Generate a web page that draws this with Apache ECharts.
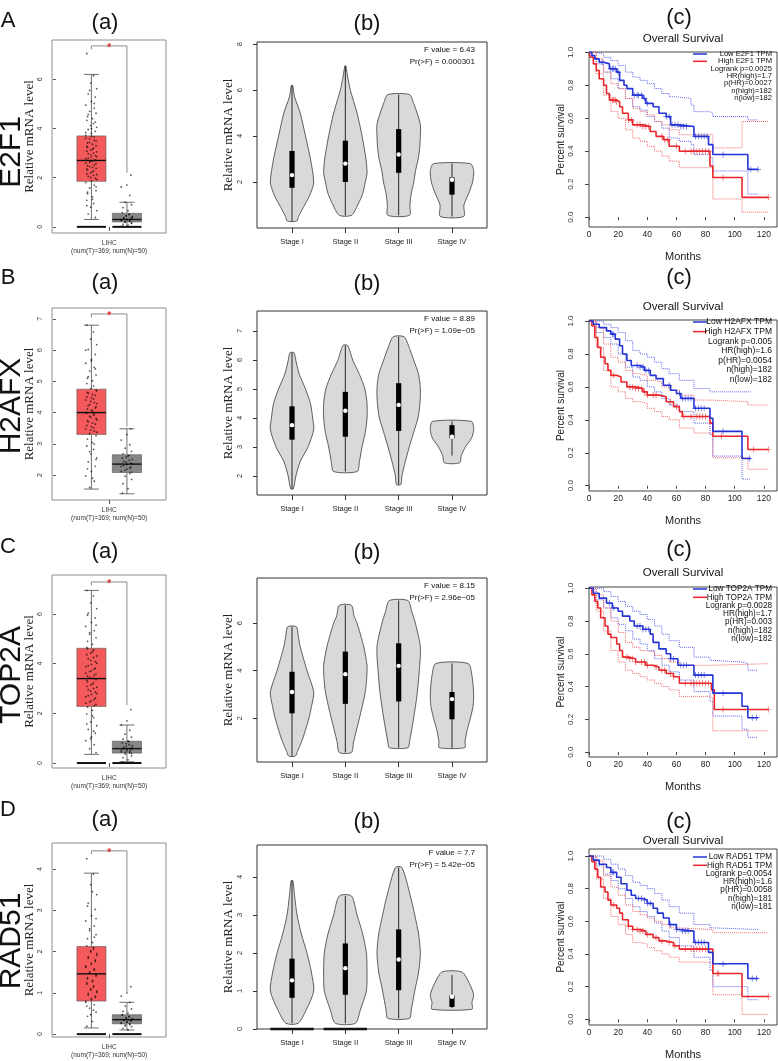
<!DOCTYPE html>
<html>
<head>
<meta charset="utf-8">
<title>E2F1 / H2AFX / TOP2A / RAD51</title>
<script src="https://cdn.jsdelivr.net/npm/echarts@6.0.0/dist/echarts.min.js"></script>
<style>
  html, body { margin: 0; padding: 0; background: #fff; }
  #main { width: 778px; height: 1061px; }
</style>
</head>
<body>
<div id="main"></div>
<script>
// ---------------- 数据 ----------------
var genes = ['E2F1', 'H2AFX', 'TOP2A', 'RAD51'];
var rowLetters = ['A', 'B', 'C', 'D'];
var stageNames = ['Stage I', 'Stage II', 'Stage III', 'Stage IV'];
var monthTicks = [0, 20, 40, 60, 80, 100, 120];
var survivalTicks = [0, 0.2, 0.4, 0.6, 0.8, 1.0];

// (a) 箱线图: [min, Q1, median, Q3, max]
var tumorBoxE2F1 = [0.3, 1.85, 2.7, 3.7, 6.2];
var normalBoxE2F1 = [0, 0.2, 0.3, 0.55, 1.0];
var tumorBoxH2AFX = [1.55, 3.3, 4.0, 4.75, 6.8];
var normalBoxH2AFX = [1.4, 2.08, 2.35, 2.65, 3.48];
var tumorBoxTOP2A = [0.35, 2.28, 3.4, 4.62, 6.95];
var normalBoxTOP2A = [0.05, 0.4, 0.58, 0.88, 1.53];
var tumorBoxRAD51 = [0.15, 0.8, 1.46, 2.12, 3.9];
var normalBoxRAD51 = [0.1, 0.25, 0.35, 0.47, 0.77];
// samples piled at zero (tumor, normal)
var zeroPileE2F1 = [1, 1];
var zeroPileH2AFX = [0, 0];
var zeroPileTOP2A = [1, 1];
var zeroPileRAD51 = [1, 1];

// (a) 散点
var tumorDotsE2F1 = [7.05, 6.15, 5.85, 5.62, 5.4, 5.28, 5.1, 4.95, 4.83, 4.7, 4.62, 4.48, 4.4, 4.33, 4.2, 4.12, 4.05, 3.96, 3.88, 3.8, 3.72, 3.66, 3.58, 3.5, 3.41, 3.36, 3.27, 3.2, 3.12, 3.05, 2.98, 2.9, 2.84, 2.77, 2.7, 2.63, 2.57, 2.49, 2.42, 2.36, 2.28, 2.2, 2.13, 2.05, 1.97, 1.88, 1.8, 1.7, 1.58, 1.47, 1.35, 1.22, 1.08, 0.95, 0.8, 0.66, 0.52, 0.38,
  3.68, 3.6, 3.52, 3.44, 3.3, 3.23, 3.16, 3.08, 3.0, 2.93, 2.86, 2.79, 2.72, 2.66, 2.59, 2.52, 2.45, 2.38, 2.31, 2.24, 2.16, 2.09, 2.01, 1.93, 4.57, 4.26, 3.99, 3.83, 5.02, 5.55, 1.63, 1.41, 1.12, 0.86];
var normalDotsE2F1 = [2.1, 1.7, 1.62, 1.28, 1.0, 0.9, 0.78, 0.66, 0.58, 0.52, 0.46, 0.41, 0.37, 0.33, 0.3, 0.27, 0.24, 0.2, 0.16, 0.11, 0.07, 0.03,
  0.5, 0.44, 0.39, 0.35, 0.32, 0.29, 0.26, 0.23, 0.19, 0.14];
var tumorDotsH2AFX = [6.8, 6.58, 6.35, 6.18, 6.02, 5.86, 5.7, 5.58, 5.45, 5.33, 5.2, 5.1, 5.02, 4.93, 4.85, 4.77, 4.7, 4.62, 4.55, 4.47, 4.4, 4.32, 4.26, 4.18, 4.11, 4.05, 3.98, 3.92, 3.85, 3.77, 3.7, 3.63, 3.55, 3.48, 3.41, 3.33, 3.26, 3.15, 3.04, 2.93, 2.82, 2.68, 2.55, 2.42, 2.28, 2.12, 1.97, 1.8, 1.6,
  4.72, 4.65, 4.58, 4.5, 4.43, 4.36, 4.29, 4.22, 4.15, 4.08, 4.01, 3.95, 3.88, 3.81, 3.74, 3.66, 3.59, 3.51, 3.44, 3.37, 5.15, 5.4, 5.66, 6.0, 2.99, 2.75, 2.5, 2.2, 1.9];
var normalDotsH2AFX = [3.48, 3.3, 3.12, 2.97, 2.86, 2.76, 2.68, 2.61, 2.54, 2.47, 2.41, 2.36, 2.31, 2.25, 2.19, 2.12, 2.05, 1.96, 1.86, 1.72, 1.56, 1.42,
  2.63, 2.57, 2.5, 2.44, 2.38, 2.33, 2.28, 2.22, 2.15, 2.09];
var tumorDotsTOP2A = [6.95, 6.72, 6.45, 6.22, 6.03, 5.84, 5.66, 5.5, 5.33, 5.18, 5.04, 4.9, 4.78, 4.66, 4.55, 4.43, 4.31, 4.2, 4.08, 3.97, 3.88, 3.78, 3.68, 3.58, 3.5, 3.41, 3.33, 3.24, 3.14, 3.05, 2.95, 2.85, 2.76, 2.66, 2.56, 2.46, 2.36, 2.25, 2.12, 1.97, 1.82, 1.66, 1.5, 1.35, 1.2, 1.05, 0.9, 0.74, 0.58, 0.42,
  4.6, 4.48, 4.36, 4.25, 4.13, 4.02, 3.92, 3.82, 3.72, 3.62, 3.53, 3.45, 3.36, 3.27, 3.18, 3.09, 3.0, 2.9, 2.8, 2.71, 2.61, 2.51, 2.41, 2.31, 5.25, 5.55, 5.95, 1.9, 1.58, 1.28, 0.98];
var normalDotsTOP2A = [2.15, 1.7, 1.53, 1.32, 1.16, 1.04, 0.96, 0.88, 0.81, 0.74, 0.67, 0.62, 0.57, 0.53, 0.49, 0.45, 0.41, 0.36, 0.29, 0.21, 0.13, 0.05,
  0.86, 0.78, 0.7, 0.64, 0.59, 0.55, 0.51, 0.47, 0.43, 0.39];
var tumorDotsRAD51 = [4.25, 3.88, 3.62, 3.38, 3.17, 3.02, 2.87, 2.74, 2.62, 2.51, 2.41, 2.31, 2.22, 2.14, 2.06, 1.99, 1.91, 1.84, 1.76, 1.69, 1.62, 1.55, 1.48, 1.41, 1.34, 1.27, 1.21, 1.14, 1.07, 1.01, 0.95, 0.89, 0.83, 0.77, 0.71, 0.63, 0.53, 0.43, 0.31, 0.19,
  2.1, 2.02, 1.95, 1.87, 1.79, 1.72, 1.65, 1.58, 1.51, 1.44, 1.37, 1.3, 1.24, 1.17, 1.1, 1.04, 0.98, 0.92, 0.86, 0.8, 2.35, 2.55, 2.8, 3.1, 3.45, 0.68, 0.58, 0.47];
var normalDotsRAD51 = [1.15, 1.0, 0.92, 0.77, 0.68, 0.61, 0.55, 0.51, 0.47, 0.43, 0.4, 0.37, 0.35, 0.33, 0.3, 0.28, 0.25, 0.22, 0.18, 0.14, 0.1,
  0.46, 0.42, 0.39, 0.36, 0.34, 0.32, 0.29, 0.26, 0.23, 0.2];

// (a) 显著性括号: [top, left foot, right foot]
var bracketE2F1 = [7.36, 7.22, 2.2];
var bracketH2AFX = [7.16, 7.05, 3.55];
var bracketTOP2A = [7.29, 7.15, 2.33];
var bracketRAD51 = [4.44, 4.36, 1.0];

var exprTicksE2F1 = [0, 2, 4, 6];
var exprTicksH2AFX = [2, 3, 4, 5, 6, 7];
var exprTicksTOP2A = [0, 2, 4, 6];
var exprTicksRAD51 = [0, 1, 2, 3, 4];

// (b) 小提琴图内箱: [lower whisker, Q1, median, Q3, upper whisker]
var vioBoxE2F1 = [[0.3, 1.75, 2.3, 3.35, 6.2], [0.55, 2.0, 2.8, 3.8, 7.05], [0.55, 2.4, 3.2, 4.3, 5.8], [0.5, 1.45, 2.1, 2.2, 2.8]];
var vioBoxH2AFX = [[1.55, 3.25, 3.75, 4.4, 6.25], [2.15, 3.35, 4.25, 4.9, 6.5], [1.7, 3.55, 4.45, 5.2, 6.8], [2.7, 3.3, 3.35, 3.75, 3.88]];
var vioBoxTOP2A = [[0.4, 2.2, 3.1, 3.95, 5.85], [0.55, 2.6, 3.85, 4.8, 6.75], [0.75, 2.7, 4.2, 5.15, 6.95], [0.75, 1.95, 2.8, 3.1, 4.3]];
var vioBoxRAD51 = [[0.15, 0.82, 1.28, 1.85, 3.9], [0.15, 0.9, 1.6, 2.25, 3.5], [0.28, 1.02, 1.83, 2.62, 4.25], [0.55, 0.58, 0.85, 0.88, 1.42]];
// 密度轮廓: [value, relative half width], top to bottom
var vioShapeE2F1 = [
  [[6.2, 0.03], [5.7, 0.12], [5, 0.38], [4, 0.62], [3, 0.85], [2, 1], [1.5, 0.85], [1, 0.58], [0.5, 0.3], [0.3, 0.22]],
  [[7.05, 0.02], [6.5, 0.12], [6, 0.23], [5, 0.54], [4, 0.77], [3, 0.95], [2.4, 1], [2, 0.92], [1.5, 0.8], [1, 0.57], [0.55, 0.28]],
  [[5.8, 0.5], [5.4, 0.7], [5, 0.85], [4.5, 1], [4, 1], [3.5, 0.97], [3, 0.9], [2.5, 0.78], [2, 0.7], [1.5, 0.58], [1, 0.52], [0.55, 0.5]],
  [[2.8, 0.85], [2.5, 1], [2, 0.95], [1.5, 0.77], [1, 0.55], [0.5, 0.54]]
];
var vioShapeH2AFX = [
  [[6.25, 0.09], [5.9, 0.2], [5.5, 0.34], [5, 0.62], [4.5, 0.85], [4, 0.95], [3.6, 1], [3, 0.74], [2.5, 0.38], [2, 0.18], [1.55, 0.06]],
  [[6.5, 0.11], [6, 0.34], [5.5, 0.65], [5, 0.9], [4.5, 1], [4, 1], [3.5, 0.92], [3, 0.77], [2.5, 0.65], [2.15, 0.54]],
  [[6.8, 0.25], [6.4, 0.5], [6, 0.69], [5.5, 0.92], [5, 1], [4.5, 0.98], [4, 0.89], [3.5, 0.69], [3, 0.49], [2.5, 0.31], [2, 0.15], [1.7, 0.1]],
  [[3.88, 0.9], [3.6, 1], [3.3, 0.9], [3, 0.62], [2.7, 0.43], [2.45, 0.35]]
];
var vioShapeTOP2A = [
  [[5.85, 0.2], [5.5, 0.28], [5, 0.38], [4, 0.69], [3.1, 1], [2.5, 0.9], [2, 0.78], [1.5, 0.62], [1, 0.44], [0.6, 0.25], [0.4, 0.15]],
  [[6.75, 0.28], [6.3, 0.4], [6, 0.54], [5, 0.85], [4.2, 1], [3.5, 0.97], [3, 0.9], [2, 0.65], [1, 0.38], [0.55, 0.28]],
  [[6.95, 0.43], [6.5, 0.6], [6, 0.77], [5, 1], [4, 0.95], [3, 0.85], [2, 0.69], [1, 0.5], [0.75, 0.43]],
  [[4.3, 0.74], [3.8, 0.92], [3, 1], [2.5, 0.97], [2, 0.85], [1.5, 0.7], [1, 0.6], [0.75, 0.59]]
];
var vioShapeRAD51 = [
  [[3.9, 0.04], [3.5, 0.12], [3, 0.23], [2.5, 0.43], [2, 0.69], [1.5, 0.89], [1, 1], [0.5, 0.65], [0.15, 0.28]],
  [[3.5, 0.28], [3, 0.54], [2.5, 0.8], [2, 0.97], [1.5, 1], [1, 0.97], [0.5, 0.69], [0.15, 0.46]],
  [[4.25, 0.15], [3.5, 0.54], [3, 0.74], [2.5, 0.92], [2, 1], [1.5, 0.92], [1, 0.74], [0.5, 0.58], [0.28, 0.5]],
  [[1.5, 0.46], [1.2, 0.8], [0.9, 1], [0.7, 0.92], [0.52, 0.92]]
];
var vioZeroE2F1 = [0, 0, 0, 0];
var vioZeroH2AFX = [0, 0, 0, 0];
var vioZeroTOP2A = [0, 0, 0, 0];
var vioZeroRAD51 = [1, 1, 0, 0];
var vioTicksE2F1 = [2, 4, 6, 8];
var vioTicksH2AFX = [2, 3, 4, 5, 6, 7];
var vioTicksTOP2A = [2, 4, 6];
var vioTicksRAD51 = [0, 1, 2, 3, 4];
var fTestE2F1 = ['F value = 6.43', 'Pr(>F) = 0.000301'];
var fTestH2AFX = ['F value = 8.89', 'Pr(>F) = 1.09e\u221205'];
var fTestTOP2A = ['F value = 8.15', 'Pr(>F) = 2.96e\u221205'];
var fTestRAD51 = ['F value = 7.7', 'Pr(>F) = 5.42e\u221205'];

// (c) 生存曲线 [months, survival]
var lowKmE2F1 = [[0, 1], [2, 0.98], [4, 0.96], [7, 0.94], [10, 0.93], [14, 0.9], [19, 0.88], [21, 0.83], [24, 0.8], [26, 0.78], [30, 0.74], [37, 0.72], [39, 0.69], [44, 0.67], [48, 0.63], [53, 0.61], [56, 0.56], [62, 0.55], [72, 0.49], [82, 0.44], [85, 0.38], [109, 0.29], [116, 0.29]];
var highKmE2F1 = [[0, 1], [1, 0.97], [3, 0.93], [5, 0.89], [7, 0.84], [10, 0.8], [12, 0.75], [14, 0.71], [19, 0.7], [21, 0.67], [23, 0.63], [27, 0.59], [30, 0.56], [37, 0.55], [42, 0.52], [46, 0.49], [51, 0.47], [55, 0.43], [62, 0.4], [83, 0.31], [85, 0.24], [105, 0.12], [123, 0.12]];
var lowCensE2F1 = [9, 15, 16, 17, 18, 20, 31, 33, 34, 36, 38, 40, 53, 55, 57, 59, 61, 63, 65, 67, 73, 75, 77, 79, 81, 92, 111, 116];
var highCensE2F1 = [16, 17, 18, 19, 27, 29, 33, 35, 37, 39, 41, 50, 52, 54, 60, 66, 70, 72, 74, 76, 78, 80, 82, 92, 123];
var lowUpE2F1 = [[0, 1], [5, 0.99], [10, 0.97], [15, 0.95], [20, 0.92], [25, 0.88], [30, 0.85], [35, 0.83], [40, 0.81], [45, 0.78], [50, 0.75], [55, 0.73], [60, 0.72], [70, 0.68], [72, 0.64], [83, 0.63], [85, 0.61], [109, 0.59], [116, 0.59]];
var lowLoE2F1 = [[0, 1], [5, 0.93], [10, 0.88], [15, 0.84], [20, 0.78], [25, 0.72], [30, 0.67], [35, 0.65], [40, 0.61], [45, 0.58], [50, 0.54], [55, 0.48], [62, 0.46], [70, 0.44], [72, 0.38], [83, 0.36], [85, 0.28], [109, 0.14], [116, 0.14]];
var highUpE2F1 = [[0, 1], [5, 0.96], [10, 0.88], [15, 0.81], [20, 0.78], [25, 0.72], [30, 0.66], [35, 0.64], [40, 0.62], [45, 0.58], [50, 0.56], [55, 0.53], [62, 0.5], [83, 0.5], [85, 0.42], [105, 0.58], [123, 0.58]];
var highLoE2F1 = [[0, 1], [5, 0.87], [10, 0.74], [15, 0.64], [20, 0.6], [25, 0.53], [30, 0.48], [35, 0.46], [40, 0.43], [45, 0.4], [50, 0.37], [55, 0.34], [62, 0.3], [83, 0.3], [85, 0.11], [105, 0.03], [123, 0.03]];
var statsE2F1 = ['Logrank p=0.0025', 'HR(high)=1.7', 'p(HR)=0.0027', 'n(high)=182', 'n(low)=182'];

var lowKmH2AFX = [[0, 1], [3, 0.98], [7, 0.96], [12, 0.94], [15, 0.92], [18, 0.89], [21, 0.85], [23, 0.8], [26, 0.76], [29, 0.73], [35, 0.72], [38, 0.7], [42, 0.67], [46, 0.65], [51, 0.61], [56, 0.58], [60, 0.56], [63, 0.53], [72, 0.47], [83, 0.41], [85, 0.33], [105, 0.165], [111, 0.165]];
var highKmH2AFX = [[0, 1], [2, 0.97], [4, 0.9], [6, 0.84], [8, 0.78], [11, 0.74], [13, 0.7], [15, 0.67], [19, 0.66], [22, 0.63], [26, 0.6], [32, 0.59], [37, 0.57], [40, 0.55], [48, 0.54], [53, 0.51], [58, 0.48], [62, 0.45], [64, 0.42], [83, 0.38], [85, 0.3], [109, 0.22], [123, 0.22]];
var lowCensH2AFX = [16, 17, 33, 35, 37, 39, 41, 55, 62, 64, 66, 68, 70, 73, 75, 77, 79, 92, 110];
var highCensH2AFX = [17, 28, 30, 32, 34, 36, 38, 40, 44, 46, 56, 60, 65, 70, 74, 76, 78, 80, 91, 113, 123];
var lowUpH2AFX = [[0, 1], [10, 0.98], [15, 0.96], [20, 0.93], [25, 0.88], [30, 0.82], [35, 0.8], [40, 0.78], [45, 0.75], [50, 0.71], [55, 0.68], [62, 0.64], [72, 0.59], [83, 0.57], [111, 0.57]];
var lowLoH2AFX = [[0, 1], [5, 0.93], [10, 0.9], [15, 0.86], [20, 0.8], [25, 0.72], [30, 0.66], [35, 0.64], [40, 0.6], [45, 0.57], [50, 0.53], [55, 0.49], [62, 0.45], [72, 0.38], [83, 0.31], [85, 0.18], [105, 0.04], [111, 0.04]];
var highUpH2AFX = [[0, 1], [5, 0.96], [10, 0.86], [15, 0.78], [20, 0.75], [25, 0.7], [30, 0.68], [35, 0.67], [40, 0.64], [45, 0.63], [50, 0.6], [55, 0.58], [62, 0.55], [72, 0.52], [83, 0.51], [109, 0.49], [123, 0.49]];
var highLoH2AFX = [[0, 1], [5, 0.84], [10, 0.7], [15, 0.6], [20, 0.57], [25, 0.53], [30, 0.51], [35, 0.5], [40, 0.47], [45, 0.45], [50, 0.42], [55, 0.4], [62, 0.35], [72, 0.32], [83, 0.31], [85, 0.17], [109, 0.1], [123, 0.1]];
var statsH2AFX = ['Logrank p=0.005', 'HR(high)=1.6', 'p(HR)=0.0054', 'n(high)=182', 'n(low)=182'];

var lowKmTOP2A = [[0, 1], [3, 0.97], [7, 0.94], [12, 0.91], [16, 0.88], [20, 0.86], [23, 0.83], [28, 0.8], [31, 0.77], [37, 0.75], [42, 0.72], [44, 0.67], [48, 0.63], [53, 0.6], [56, 0.57], [61, 0.53], [72, 0.47], [85, 0.36], [105, 0.28], [109, 0.21], [116, 0.21]];
var highKmTOP2A = [[0, 1], [2, 0.96], [4, 0.92], [6, 0.88], [8, 0.82], [11, 0.77], [13, 0.72], [15, 0.7], [19, 0.66], [21, 0.62], [23, 0.58], [27, 0.57], [32, 0.55], [39, 0.53], [44, 0.52], [48, 0.5], [53, 0.48], [58, 0.46], [62, 0.42], [84, 0.38], [86, 0.26], [123, 0.26]];
var lowCensTOP2A = [14, 17, 33, 35, 37, 39, 41, 56, 58, 63, 65, 67, 73, 75, 77, 79, 92, 112, 115];
var highCensTOP2A = [26, 28, 30, 32, 36, 38, 40, 46, 50, 52, 56, 58, 66, 70, 72, 74, 76, 78, 80, 82, 92, 123];
var lowUpTOP2A = [[0, 1], [10, 0.98], [15, 0.95], [20, 0.92], [25, 0.89], [30, 0.86], [35, 0.84], [40, 0.81], [45, 0.77], [50, 0.72], [55, 0.68], [62, 0.64], [72, 0.58], [83, 0.56], [85, 0.55], [105, 0.54], [109, 0.5], [116, 0.5]];
var lowLoTOP2A = [[0, 1], [5, 0.93], [10, 0.88], [15, 0.82], [20, 0.78], [25, 0.74], [30, 0.69], [35, 0.66], [40, 0.62], [45, 0.57], [50, 0.53], [55, 0.49], [62, 0.44], [72, 0.37], [83, 0.31], [85, 0.22], [105, 0.14], [109, 0.09], [116, 0.09]];
var highUpTOP2A = [[0, 1], [5, 0.96], [10, 0.88], [15, 0.8], [20, 0.73], [25, 0.67], [30, 0.64], [35, 0.62], [40, 0.61], [45, 0.59], [50, 0.57], [55, 0.55], [62, 0.53], [85, 0.54], [123, 0.54]];
var highLoTOP2A = [[0, 1], [5, 0.86], [10, 0.74], [15, 0.62], [20, 0.55], [25, 0.5], [30, 0.48], [35, 0.46], [40, 0.44], [45, 0.42], [50, 0.4], [55, 0.38], [62, 0.34], [83, 0.33], [85, 0.13], [123, 0.13]];
var statsTOP2A = ['Logrank p=0.0028', 'HR(high)=1.7', 'p(HR)=0.003', 'n(high)=182', 'n(low)=182'];

var lowKmRAD51 = [[0, 1], [3, 0.975], [7, 0.95], [12, 0.93], [15, 0.9], [19, 0.87], [22, 0.83], [26, 0.79], [29, 0.76], [32, 0.74], [37, 0.73], [40, 0.71], [44, 0.68], [47, 0.65], [51, 0.62], [55, 0.58], [60, 0.55], [62, 0.54], [72, 0.47], [82, 0.41], [85, 0.34], [109, 0.25], [116, 0.25]];
var highKmRAD51 = [[0, 1], [2, 0.965], [4, 0.92], [6, 0.87], [8, 0.81], [11, 0.78], [13, 0.73], [15, 0.7], [19, 0.68], [21, 0.65], [23, 0.61], [27, 0.57], [30, 0.55], [35, 0.54], [39, 0.52], [44, 0.5], [48, 0.48], [53, 0.47], [58, 0.45], [62, 0.43], [85, 0.28], [105, 0.14], [123, 0.14]];
var lowCensRAD51 = [16, 17, 34, 36, 38, 40, 42, 56, 60, 64, 66, 68, 73, 75, 77, 79, 92, 112, 115];
var highCensRAD51 = [17, 27, 30, 33, 35, 37, 40, 46, 50, 55, 59, 66, 70, 72, 74, 76, 78, 80, 88, 89, 123];
var lowUpRAD51 = [[0, 1], [10, 0.98], [15, 0.95], [20, 0.92], [25, 0.88], [30, 0.84], [35, 0.82], [40, 0.8], [45, 0.77], [50, 0.73], [55, 0.69], [62, 0.65], [72, 0.58], [83, 0.56], [85, 0.55], [116, 0.55]];
var lowLoRAD51 = [[0, 1], [5, 0.94], [10, 0.89], [15, 0.85], [20, 0.8], [25, 0.74], [30, 0.69], [35, 0.66], [40, 0.63], [45, 0.59], [50, 0.54], [55, 0.5], [62, 0.45], [72, 0.38], [83, 0.3], [85, 0.2], [109, 0.12], [116, 0.12]];
var highUpRAD51 = [[0, 1], [5, 0.97], [10, 0.88], [15, 0.81], [20, 0.76], [25, 0.7], [30, 0.66], [35, 0.64], [40, 0.62], [45, 0.6], [50, 0.58], [55, 0.56], [62, 0.55], [83, 0.55], [85, 0.53], [123, 0.53]];
var highLoRAD51 = [[0, 1], [5, 0.86], [10, 0.74], [15, 0.63], [20, 0.58], [25, 0.52], [30, 0.47], [35, 0.46], [40, 0.44], [45, 0.42], [50, 0.4], [55, 0.38], [62, 0.35], [83, 0.34], [85, 0.15], [105, 0.03], [123, 0.03]];
var statsRAD51 = ['Logrank p=0.0054', 'HR(high)=1.6', 'p(HR)=0.0058', 'n(high)=181', 'n(low)=181'];

// ---------------- 版式 ----------------
var SANS = "'Liberation Sans', Arial, Helvetica, sans-serif";
var SERIF = "'Liberation Serif', 'Times New Roman', serif";
var RED = '#e8262b', BLUE = '#2433d6';
var RED_CI = '#f0686b', BLUE_CI = '#5a64ec';
var BOX_FILLS = ['#f45a5b', '#868686'];
var BOX_HALF = 0.41, CAP_HALF = 0.21, VIO_HALF = 0.407;
var JITTER = [-0.13, 0.06, -0.02, 0.15, -0.09, 0.11, 0.0, -0.16, 0.08, -0.05, 0.13, -0.11, 0.03];
var PLUS = 'path://M4.4,0H5.6V10H4.4ZM0,4.4H10V5.6H0Z';

var rowLayout = [
  { letterY: 21, geneY: 152, aY: 23, bY: 24, cY: 18, osY: 39, legendTop: 54, legendStep: 7.3, legendFont: 7.6,
    gridA: [52, 40, 114, 193], rangeA: [-0.25, 7.6],
    gridB: [257, 42, 230, 186], rangeB: [0, 8.09],
    gridC: [589, 52, 188, 175], rangeC: [-0.06, 1.002] },
  { letterY: 278, geneY: 406, aY: 283, bY: 284, cY: 278, osY: 307, legendTop: 322, legendStep: 9.6, legendFont: 8.5,
    gridA: [52, 308, 114, 192], rangeA: [1.2, 7.35],
    gridB: [257, 311, 230, 184], rangeB: [1.34, 7.69],
    gridC: [589, 320, 188, 171], rangeC: [-0.032, 1.006] },
  { letterY: 547, geneY: 675, aY: 552, bY: 553, cY: 550, osY: 573, legendTop: 589, legendStep: 8.3, legendFont: 8.2,
    gridA: [52, 575, 114, 193], rangeA: [-0.2, 7.57],
    gridB: [257, 578, 230, 184], rangeB: [0.15, 7.9],
    gridC: [589, 587, 188, 170], rangeC: [-0.03, 1.008] },
  { letterY: 810, geneY: 941, aY: 820, bY: 822, cY: 822, osY: 841, legendTop: 857, legendStep: 8.3, legendFont: 8.2,
    gridA: [52, 843, 114, 194], rangeA: [-0.07, 4.63],
    gridB: [257, 845, 230, 184], rangeB: [0, 4.84],
    gridC: [589, 849, 188, 176], rangeC: [-0.035, 1.043] }
];

var rows = [
  { tumorBox: tumorBoxE2F1, normalBox: normalBoxE2F1, zeroPile: zeroPileE2F1, tumorDots: tumorDotsE2F1, normalDots: normalDotsE2F1,
    bracket: bracketE2F1, exprTicks: exprTicksE2F1, vioBox: vioBoxE2F1, vioShape: vioShapeE2F1, vioZero: vioZeroE2F1,
    vioTicks: vioTicksE2F1, fTest: fTestE2F1, low: lowKmE2F1, high: highKmE2F1, lowCens: lowCensE2F1, highCens: highCensE2F1,
    ci: [lowUpE2F1, lowLoE2F1, highUpE2F1, highLoE2F1], stats: statsE2F1 },
  { tumorBox: tumorBoxH2AFX, normalBox: normalBoxH2AFX, zeroPile: zeroPileH2AFX, tumorDots: tumorDotsH2AFX, normalDots: normalDotsH2AFX,
    bracket: bracketH2AFX, exprTicks: exprTicksH2AFX, vioBox: vioBoxH2AFX, vioShape: vioShapeH2AFX, vioZero: vioZeroH2AFX,
    vioTicks: vioTicksH2AFX, fTest: fTestH2AFX, low: lowKmH2AFX, high: highKmH2AFX, lowCens: lowCensH2AFX, highCens: highCensH2AFX,
    ci: [lowUpH2AFX, lowLoH2AFX, highUpH2AFX, highLoH2AFX], stats: statsH2AFX },
  { tumorBox: tumorBoxTOP2A, normalBox: normalBoxTOP2A, zeroPile: zeroPileTOP2A, tumorDots: tumorDotsTOP2A, normalDots: normalDotsTOP2A,
    bracket: bracketTOP2A, exprTicks: exprTicksTOP2A, vioBox: vioBoxTOP2A, vioShape: vioShapeTOP2A, vioZero: vioZeroTOP2A,
    vioTicks: vioTicksTOP2A, fTest: fTestTOP2A, low: lowKmTOP2A, high: highKmTOP2A, lowCens: lowCensTOP2A, highCens: highCensTOP2A,
    ci: [lowUpTOP2A, lowLoTOP2A, highUpTOP2A, highLoTOP2A], stats: statsTOP2A },
  { tumorBox: tumorBoxRAD51, normalBox: normalBoxRAD51, zeroPile: zeroPileRAD51, tumorDots: tumorDotsRAD51, normalDots: normalDotsRAD51,
    bracket: bracketRAD51, exprTicks: exprTicksRAD51, vioBox: vioBoxRAD51, vioShape: vioShapeRAD51, vioZero: vioZeroRAD51,
    vioTicks: vioTicksRAD51, fTest: fTestRAD51, low: lowKmRAD51, high: highKmRAD51, lowCens: lowCensRAD51, highCens: highCensRAD51,
    ci: [lowUpRAD51, lowLoRAD51, highUpRAD51, highLoRAD51], stats: statsRAD51 }
];

// ---------------- 绘制函数 ----------------
function seg(a, b) {
  return { x1: a[0], y1: a[1], x2: b[0], y2: b[1] };
}

function renderBoxes(params, api) {
  var x = api.value(0);
  var p = function (dx, v) { return api.coord([x + dx, v]); };
  var lo = api.value(1), q1 = api.value(2), md = api.value(3), q3 = api.value(4), hi = api.value(5);
  var tl = p(-BOX_HALF, q3), br = p(BOX_HALF, q1);
  var wStyle = { stroke: '#4a4a4a', lineWidth: 0.8 };
  var children = [
    { type: 'line', shape: seg(p(0, q3), p(0, hi)), style: wStyle },
    { type: 'line', shape: seg(p(0, lo), p(0, q1)), style: wStyle },
    { type: 'line', shape: seg(p(-CAP_HALF, hi), p(CAP_HALF, hi)), style: wStyle },
    { type: 'line', shape: seg(p(-CAP_HALF, lo), p(CAP_HALF, lo)), style: wStyle },
    { type: 'rect', shape: { x: tl[0], y: tl[1], width: br[0] - tl[0], height: br[1] - tl[1] },
      style: { fill: BOX_FILLS[params.dataIndex], stroke: '#555', lineWidth: 0.6 } },
    { type: 'line', shape: seg(p(-BOX_HALF, md), p(BOX_HALF, md)), style: { stroke: '#111', lineWidth: 1.4 } }
  ];
  if (api.value(6)) {
    children.push({ type: 'line', shape: seg(p(-BOX_HALF, 0), p(BOX_HALF, 0)), style: { stroke: '#111', lineWidth: 2 } });
  }
  return { type: 'group', children: children };
}

function renderBracket(params, api) {
  var top = api.value(0), lf = api.value(1), rf = api.value(2);
  var pts = [api.coord([1, lf]), api.coord([1, top]), api.coord([2, top]), api.coord([2, rf])];
  var mid = api.coord([1.5, top]);
  return {
    type: 'group',
    children: [
      { type: 'polyline', shape: { points: pts }, style: { stroke: '#8a8a8a', lineWidth: 1, fill: null } },
      { type: 'text', x: mid[0], y: mid[1] + 2,
        style: { text: '*', fill: RED, font: 'bold 10px ' + SANS, align: 'center', verticalAlign: 'middle' } }
    ]
  };
}

function violinRenderer(shapes, zeros) {
  return function (params, api) {
    var i = params.dataIndex;
    var x = api.value(0);
    var shape = shapes[i];
    var rightSide = [], leftSide = [];
    shape.forEach(function (d) {
      rightSide.push(api.coord([x + d[1] * VIO_HALF, d[0]]));
      leftSide.unshift(api.coord([x - d[1] * VIO_HALF, d[0]]));
    });
    var children = [{
      type: 'polygon',
      shape: { points: rightSide.concat(leftSide), smooth: 0.25 },
      style: { fill: '#d9d9d9', stroke: '#3a3a3a', lineWidth: 0.8 }
    }];
    if (zeros[i]) {
      children.push({ type: 'line', shape: seg(api.coord([x - VIO_HALF, 0]), api.coord([x + VIO_HALF, 0])),
        style: { stroke: '#111', lineWidth: 2.5 } });
    }
    var lo = api.coord([x, api.value(1)]), q1 = api.coord([x, api.value(2)]);
    var md = api.coord([x, api.value(3)]), q3 = api.coord([x, api.value(4)]), hi = api.coord([x, api.value(5)]);
    children.push({ type: 'line', shape: seg(lo, hi), style: { stroke: '#111', lineWidth: 0.9 } });
    children.push({ type: 'rect', shape: { x: q3[0] - 2.6, y: q3[1], width: 5.2, height: q1[1] - q3[1] }, style: { fill: '#000' } });
    children.push({ type: 'circle', shape: { cx: md[0], cy: md[1], r: 2.2 }, style: { fill: '#fff' } });
    return { type: 'group', children: children };
  };
}

function stepValueAt(steps, t) {
  var s = steps[0][1];
  for (var i = 0; i < steps.length; i++) {
    if (steps[i][0] <= t) s = steps[i][1]; else break;
  }
  return s;
}

function gridOf(g) {
  return { left: g[0], top: g[1], width: g[2], height: g[3], show: true, backgroundColor: 'transparent', borderWidth: 1 };
}

// ---------------- 组装 ----------------
var grids = [], xAxes = [], yAxes = [], series = [], graphics = [];

function addText(x, y, text, size, opts) {
  opts = opts || {};
  graphics.push({
    type: 'text', x: x, y: y, rotation: opts.rotation || 0,
    style: {
      text: text, fill: opts.color || '#111', fontSize: size, fontFamily: opts.family || SANS,
      align: opts.align || 'center', verticalAlign: 'middle',
      textAlign: opts.align || 'center', textVerticalAlign: 'middle'
    }
  });
}

rows.forEach(function (row, r) {
  var L = rowLayout[r];
  var ia = r * 3, ib = r * 3 + 1, ic = r * 3 + 2;

  // 面板 (a)
  var ga = gridOf(L.gridA); ga.borderColor = '#8c8c8c';
  grids.push(ga);
  xAxes.push({
    gridIndex: ia, type: 'value', min: -0.11, max: 3.1,
    axisLine: { show: false }, splitLine: { show: false },
    axisTick: { show: true, length: 4, customValues: [1.5], lineStyle: { color: '#555' } },
    axisLabel: { customValues: [1.5], margin: 6, fontSize: 6.5, lineHeight: 8, color: '#333', fontFamily: SANS,
      formatter: function () { return 'LIHC\n(num(T)=369; num(N)=50)'; } }
  });
  yAxes.push({
    gridIndex: ia, type: 'value', min: L.rangeA[0], max: L.rangeA[1],
    name: 'Relative mRNA level', nameLocation: 'middle', nameGap: 15,
    nameTextStyle: { fontFamily: SERIF, fontSize: 13, color: '#222' },
    axisLine: { show: false }, splitLine: { show: false },
    axisTick: { show: true, length: 3, customValues: row.exprTicks, lineStyle: { color: '#555' } },
    axisLabel: { customValues: row.exprTicks, rotate: 90, margin: 8, fontSize: 7, color: '#333', fontFamily: SANS }
  });
  series.push({
    type: 'custom', xAxisIndex: ia, yAxisIndex: ia, renderItem: renderBoxes, z: 2, silent: true,
    data: [[1].concat(row.tumorBox, [row.zeroPile[0]]), [2].concat(row.normalBox, [row.zeroPile[1]])]
  });
  var dots = [];
  row.tumorDots.forEach(function (v, k) { dots.push([1 + JITTER[k % JITTER.length], v]); });
  row.normalDots.forEach(function (v, k) { dots.push([2 + JITTER[(k + 5) % JITTER.length], v]); });
  series.push({
    type: 'scatter', xAxisIndex: ia, yAxisIndex: ia, data: dots, symbolSize: 1.8, z: 3, silent: true,
    itemStyle: { color: 'rgba(0,0,0,0.8)' }
  });
  series.push({
    type: 'custom', xAxisIndex: ia, yAxisIndex: ia, renderItem: renderBracket, z: 4, silent: true,
    data: [row.bracket]
  });

  // 面板 (b)
  var gb = gridOf(L.gridB); gb.borderColor = '#333';
  grids.push(gb);
  xAxes.push({
    gridIndex: ib, type: 'value', min: 0.343, max: 4.657,
    axisLine: { show: false }, splitLine: { show: false },
    axisTick: { show: true, length: 5, customValues: [1, 2, 3, 4], lineStyle: { color: '#333' } },
    axisLabel: { customValues: [1, 2, 3, 4], margin: 10, fontSize: 7.5, color: '#222', fontFamily: SANS,
      formatter: function (v) { return stageNames[Math.round(v) - 1]; } }
  });
  yAxes.push({
    gridIndex: ib, type: 'value', min: L.rangeB[0], max: L.rangeB[1],
    name: 'Relative mRNA level', nameLocation: 'middle', nameGap: 17,
    nameTextStyle: { fontFamily: SERIF, fontSize: 13, color: '#222' },
    axisLine: { show: false }, splitLine: { show: false },
    axisTick: { show: true, length: 4, customValues: row.vioTicks, lineStyle: { color: '#333' } },
    axisLabel: { customValues: row.vioTicks, rotate: 90, margin: 13, fontSize: 7.5, color: '#333', fontFamily: SANS }
  });
  series.push({
    type: 'custom', xAxisIndex: ib, yAxisIndex: ib, renderItem: violinRenderer(row.vioShape, row.vioZero),
    z: 2, silent: true,
    data: row.vioBox.map(function (b, k) { return [k + 1].concat(b); })
  });

  // 面板 (c)
  var gc = gridOf(L.gridC); gc.borderColor = '#444';
  grids.push(gc);
  xAxes.push({
    gridIndex: ic, type: 'value', min: 0, max: 129,
    name: 'Months', nameLocation: 'middle', nameGap: 24,
    nameTextStyle: { fontFamily: SANS, fontSize: 11, color: '#222' },
    axisLine: { show: false }, splitLine: { show: false },
    axisTick: { show: true, length: 3, customValues: monthTicks, lineStyle: { color: '#444' } },
    axisLabel: { customValues: monthTicks, margin: 3, fontSize: 8.5, color: '#222', fontFamily: SANS }
  });
  yAxes.push({
    gridIndex: ic, type: 'value', min: L.rangeC[0], max: L.rangeC[1],
    name: 'Percent survival', nameLocation: 'middle', nameGap: 21,
    nameTextStyle: { fontFamily: SANS, fontSize: 10, color: '#222' },
    axisLine: { show: false }, splitLine: { show: false },
    axisTick: { show: true, length: 4, customValues: survivalTicks, lineStyle: { color: '#444' } },
    axisLabel: { customValues: survivalTicks, rotate: 90, margin: 14, fontSize: 8, color: '#333', fontFamily: SANS,
      formatter: function (v) { return v.toFixed(1); } }
  });
  var ciColors = [BLUE_CI, BLUE_CI, RED_CI, RED_CI];
  row.ci.forEach(function (d, k) {
    series.push({
      type: 'line', xAxisIndex: ic, yAxisIndex: ic, data: d, step: 'end', showSymbol: false, symbol: 'none',
      silent: true, z: 2, lineStyle: { color: ciColors[k], width: 1, type: 'dotted' }
    });
  });
  [[row.high, row.highCens, RED], [row.low, row.lowCens, BLUE]].forEach(function (g) {
    series.push({
      type: 'line', xAxisIndex: ic, yAxisIndex: ic, data: g[0], step: 'end', showSymbol: false, symbol: 'none',
      silent: true, z: 3, lineStyle: { color: g[2], width: 1.6 }
    });
    series.push({
      type: 'scatter', xAxisIndex: ic, yAxisIndex: ic, symbol: PLUS, symbolSize: 6, silent: true, z: 4,
      itemStyle: { color: g[2] },
      data: g[1].map(function (t) { return [t, stepValueAt(g[0], t)]; })
    });
  });

  // 文字
  addText(8, L.letterY, rowLetters[r], 22);
  addText(12, L.geneY, genes[r], 30, { rotation: Math.PI / 2 });
  addText(105, L.aY, '(a)', 22);
  addText(367, L.bY, '(b)', 22);
  addText(679, L.cY, '(c)', 22);
  addText(683, L.osY, 'Overall Survival', 11.5);
  addText(475, L.gridB[1] + 8, row.fTest[0], 8, { align: 'right' });
  addText(475, L.gridB[1] + 20, row.fTest[1], 8, { align: 'right' });
  // 图例
  var ly = L.legendTop, step = L.legendStep, lf = L.legendFont;
  graphics.push({ type: 'line', shape: { x1: 693, y1: ly, x2: 707, y2: ly }, style: { stroke: BLUE, lineWidth: 1.5 } });
  graphics.push({ type: 'line', shape: { x1: 693, y1: ly + step, x2: 707, y2: ly + step }, style: { stroke: RED, lineWidth: 1.5 } });
  addText(772, ly, 'Low ' + genes[r] + ' TPM', lf, { align: 'right' });
  addText(772, ly + step, 'High ' + genes[r] + ' TPM', lf, { align: 'right' });
  row.stats.forEach(function (s, k) {
    addText(772, ly + step * (k + 2), s, lf, { align: 'right' });
  });
});

var chart = echarts.init(document.getElementById('main'));
chart.setOption({
  animation: false,
  backgroundColor: '#fff',
  grid: grids,
  xAxis: xAxes,
  yAxis: yAxes,
  series: series,
  graphic: { elements: graphics }
});
</script>
</body>
</html>
